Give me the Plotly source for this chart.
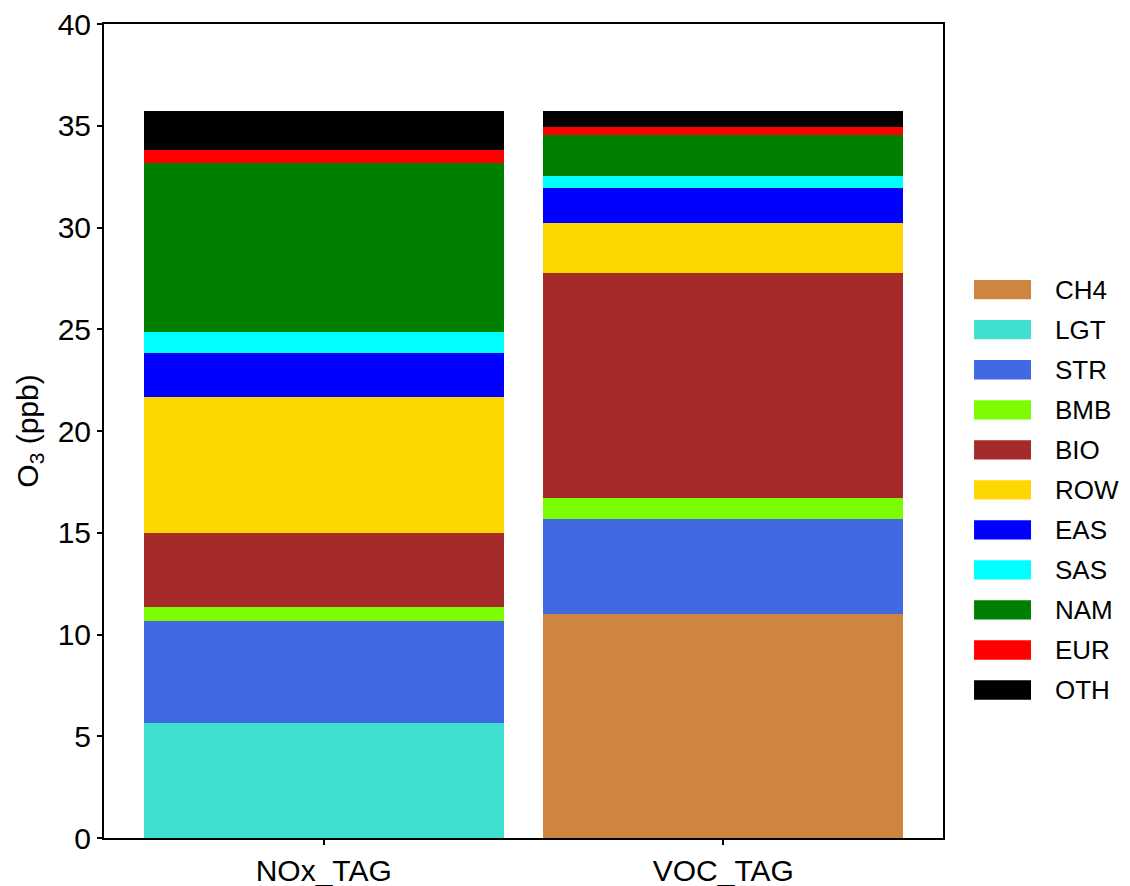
import plotly.graph_objects as go

categories = ["NOx_TAG", "VOC_TAG"]
tags = ["CH4", "LGT", "STR", "BMB", "BIO", "ROW", "EAS", "SAS", "NAM", "EUR", "OTH"]
nox_values = [0.0, 5.65, 5.00, 0.69, 3.63, 6.72, 2.16, 1.03, 8.30, 0.64, 1.90]
voc_values = [11.02, 0.0, 4.67, 1.00, 11.09, 2.46, 1.68, 0.63, 1.99, 0.38, 0.79]
colors = ["#CD853F", "#40E0D0", "#4169E1", "#7CFC00", "#A52A2A", "#FFD700",
          "#0000FF", "#00FFFF", "#008000", "#FF0000", "#000000"]
y_ticks = [0, 5, 10, 15, 20, 25, 30, 35, 40]

FONT = "Arial, Liberation Sans, sans-serif"

fig = go.Figure()
for i, tag in enumerate(tags):
    fig.add_trace(go.Bar(
        x=[0, 1], y=[nox_values[i], voc_values[i]], name=tag,
        marker=dict(color=colors[i], line=dict(width=0)),
        width=0.9, showlegend=False,
    ))

# legend drawn as swatches + text (matplotlib-style wide patches)
x0_sw, x1_sw, x_txt = 1.0370, 1.1049, 1.1335
y_top, dy, h = 0.6736, 0.04918, 0.0237
for i, tag in enumerate(tags):
    yc = y_top - i * dy
    fig.add_shape(type="rect", xref="paper", yref="paper",
                  x0=x0_sw, x1=x1_sw, y0=yc - h / 2, y1=yc + h / 2,
                  fillcolor=colors[i], line=dict(width=0))
    fig.add_annotation(xref="paper", yref="paper", x=x_txt, y=yc,
                       text=tag, showarrow=False, xanchor="left", yanchor="middle",
                       xshift=-2, font=dict(family=FONT, size=26, color="black"))

# page body has an 8px default margin, so the figure is 8px smaller
fig.update_layout(
    barmode="stack",
    width=1122, height=878,
    margin=dict(l=96, r=187, t=16, b=48, autoexpand=False),
    plot_bgcolor="white", paper_bgcolor="white",
    font=dict(family=FONT, size=30, color="black"),
    bargap=0,
)
fig.update_xaxes(
    range=[-0.55, 1.55], tickvals=[0, 1], ticktext=categories,
    showline=True, linecolor="black", linewidth=2, mirror=True,
    ticks="outside", ticklen=5, tickwidth=1.5, tickcolor="black",
    showgrid=False, zeroline=False, tickfont=dict(size=30), automargin=False,
    ticklabeloverflow="allow",
)
fig.update_yaxes(
    range=[0, 40], tickvals=y_ticks,
    showline=True, linecolor="black", linewidth=2, mirror=True,
    ticks="outside", ticklen=5, tickwidth=1.5, tickcolor="black",
    showgrid=False, zeroline=False, tickfont=dict(size=30), automargin=False,
    ticklabeloverflow="allow",
    title=dict(text="O<sub>3</sub> (ppb)", font=dict(size=30), standoff=10),
)

fig.write_html("out.html")
